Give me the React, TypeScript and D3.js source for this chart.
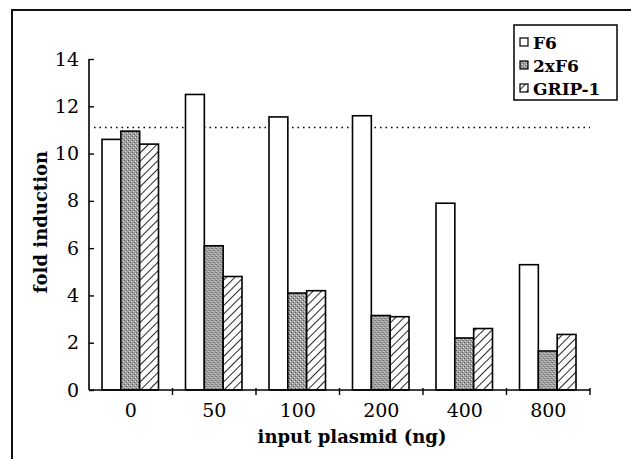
import React, { useEffect, useRef } from "react";
import * as d3 from "d3";

const doses = ["0", "50", "100", "200", "400", "800"];
const seriesNames = ["F6", "2xF6", "GRIP-1"];
const f6 = [10.6, 12.5, 11.55, 11.6, 7.9, 5.3];
const twoXF6 = [10.95, 6.1, 4.1, 3.15, 2.2, 1.65];
const grip1 = [10.4, 4.8, 4.2, 3.1, 2.6, 2.35];
const yTicks = [0, 2, 4, 6, 8, 10, 12, 14];
const refLine = 11.1;

const W = 631;
const H = 459;
const SERIF = "DejaVu Serif, serif";

export default function App() {
  const ref = useRef<SVGSVGElement>(null);

  useEffect(() => {
    const svg = d3.select(ref.current);
    svg.selectAll("*").remove();

    const m = { left: 89, top: 59, right: 41, bottom: 69 };
    const innerW = W - m.left - m.right;
    const innerH = H - m.top - m.bottom;
    const values = [f6, twoXF6, grip1];
    const fills = ["#fff", "url(#stipple)", "url(#hatch)"];

    const defs = svg.append("defs");
    const st = defs
      .append("pattern")
      .attr("id", "stipple")
      .attr("patternUnits", "userSpaceOnUse")
      .attr("width", 4)
      .attr("height", 4);
    st.append("rect").attr("width", 4).attr("height", 4).attr("fill", "#a0a0a0");
    st.append("rect").attr("x", 0).attr("y", 0).attr("width", 1).attr("height", 1).attr("fill", "#dcdcdc");
    st.append("rect").attr("x", 2).attr("y", 2).attr("width", 1).attr("height", 1).attr("fill", "#dcdcdc");
    st.append("rect").attr("x", 1).attr("y", 3).attr("width", 1).attr("height", 1).attr("fill", "#5a5a5a");
    st.append("rect").attr("x", 3).attr("y", 1).attr("width", 1).attr("height", 1).attr("fill", "#5a5a5a");

    const ht = defs
      .append("pattern")
      .attr("id", "hatch")
      .attr("patternUnits", "userSpaceOnUse")
      .attr("width", 6)
      .attr("height", 6)
      .attr("patternTransform", "rotate(45)");
    ht.append("rect").attr("width", 6).attr("height", 6).attr("fill", "#fff");
    ht.append("line").attr("x1", 0).attr("y1", 0).attr("x2", 0).attr("y2", 6)
      .attr("stroke", "#000").attr("stroke-width", 1.7);

    // outer frame
    svg.append("path")
      .attr("d", `M12,${H} L12,10 L${W},10`)
      .attr("fill", "none")
      .attr("stroke", "#111")
      .attr("stroke-width", 2);

    const g = svg.append("g").attr("transform", `translate(${m.left},${m.top})`);

    const x0 = d3.scaleBand().domain(doses).range([0, innerW]).padding(0);
    const x1 = d3.scaleBand().domain(seriesNames).range([13, x0.bandwidth() - 14]).padding(0);
    const y = d3.scaleLinear().domain([0, 14]).range([innerH, 0]);

    // dotted reference line
    g.append("line")
      .attr("x1", 5)
      .attr("x2", innerW)
      .attr("y1", y(refLine))
      .attr("y2", y(refLine))
      .attr("stroke", "#000")
      .attr("stroke-width", 1.5)
      .attr("stroke-dasharray", "1.5,4");

    const groups = g
      .selectAll("g.grp")
      .data(doses)
      .enter()
      .append("g")
      .attr("transform", (d) => `translate(${x0(d)},0)`);

    groups
      .selectAll("rect")
      .data((d, i) => seriesNames.map((s, k) => ({ s, k, v: values[k][i] })))
      .enter()
      .append("rect")
      .attr("x", (d) => x1(d.s)!)
      .attr("y", (d) => y(d.v))
      .attr("width", x1.bandwidth())
      .attr("height", (d) => innerH - y(d.v))
      .attr("fill", (d) => fills[d.k])
      .attr("stroke", "#000")
      .attr("stroke-width", 1.6);

    // y axis
    const yAxis = g
      .append("g")
      .call(d3.axisLeft(y).tickValues(yTicks).tickSize(-5).tickPadding(10));
    yAxis.attr("font-family", SERIF).attr("font-size", 19);
    yAxis.select(".domain").attr("stroke-width", 1.6).attr("d", `M0,${innerH}V0`);
    yAxis.selectAll(".tick line").attr("stroke-width", 1.4);
    yAxis.selectAll(".tick text").attr("fill", "#000");

    // x axis
    const xAxis = g
      .append("g")
      .attr("transform", `translate(0,${innerH})`)
      .call(d3.axisBottom(x0).tickSize(0).tickPadding(14));
    xAxis.attr("font-family", SERIF).attr("font-size", 19);
    xAxis.select(".domain").attr("stroke-width", 1.6).attr("d", `M0,0H${innerW}`);
    xAxis.selectAll(".tick text").attr("fill", "#000");
    xAxis
      .selectAll("line.sep")
      .data(doses)
      .enter()
      .append("line")
      .attr("x1", (d) => x0(d)! + x0.bandwidth())
      .attr("x2", (d) => x0(d)! + x0.bandwidth())
      .attr("y1", -2)
      .attr("y2", 5)
      .attr("stroke", "#000")
      .attr("stroke-width", 1.4);

    // axis titles
    svg.append("text")
      .attr("x", 352)
      .attr("y", 443)
      .attr("text-anchor", "middle")
      .attr("font-family", SERIF)
      .attr("font-size", 18)
      .attr("font-weight", "bold")
      .text("input plasmid (ng)");
    svg.append("text")
      .attr("transform", `translate(47,222) rotate(-90)`)
      .attr("text-anchor", "middle")
      .attr("font-family", SERIF)
      .attr("font-size", 18)
      .attr("font-weight", "bold")
      .text("fold induction");

    // legend
    const lg = svg.append("g").attr("transform", "translate(514,25)");
    lg.append("rect")
      .attr("width", 103)
      .attr("height", 75)
      .attr("fill", "#fff")
      .attr("stroke", "#000")
      .attr("stroke-width", 1.5);
    const items = lg
      .selectAll("g.it")
      .data(seriesNames)
      .enter()
      .append("g")
      .attr("transform", (d, i) => `translate(6,${18 + i * 23})`);
    items.append("rect")
      .attr("x", 0)
      .attr("y", -5)
      .attr("width", 8)
      .attr("height", 8)
      .attr("fill", (d, i) => fills[i])
      .attr("stroke", "#000")
      .attr("stroke-width", 1.2);
    items.append("text")
      .attr("x", 13)
      .attr("y", 6)
      .attr("font-family", SERIF)
      .attr("font-size", 17)
      .attr("font-weight", "bold")
      .text((d) => d);
  }, []);

  return (
    <svg
      ref={ref}
      width={W}
      height={H}
      style={{ position: "absolute", left: 0, top: 0, background: "#fff" }}
    />
  );
}
